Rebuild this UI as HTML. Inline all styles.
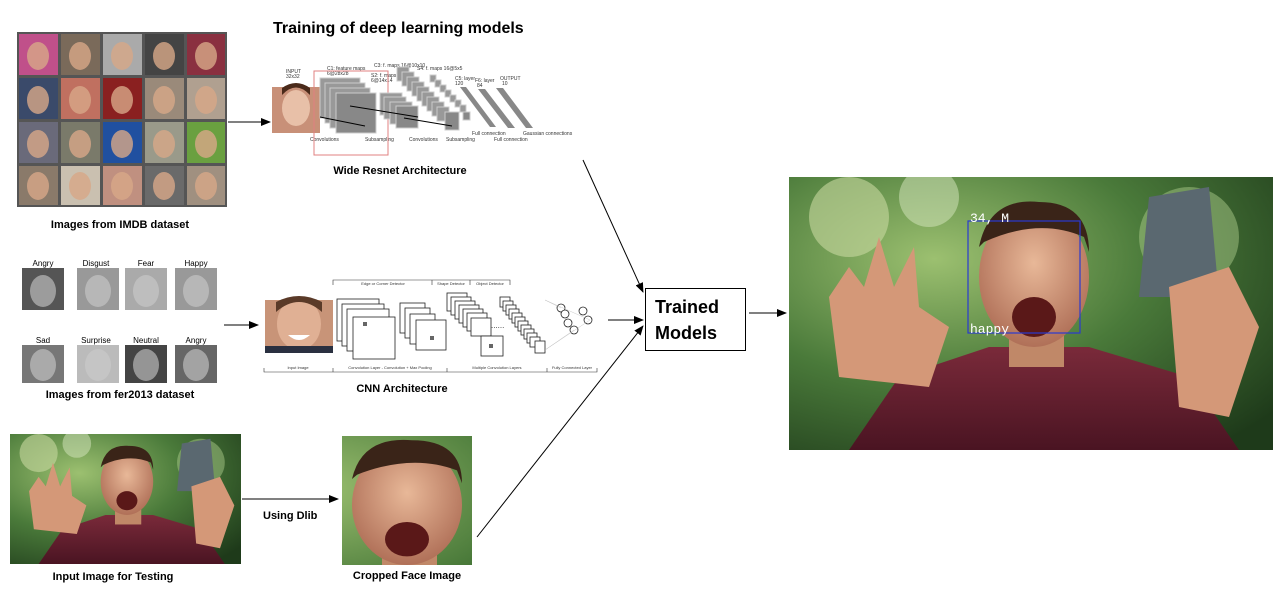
<!DOCTYPE html>
<html><head><meta charset="utf-8"><style>
html,body{margin:0;padding:0;background:#fff;width:1273px;height:616px;overflow:hidden;}
body{position:relative;font-family:"Liberation Sans",sans-serif;}
svg{display:block;}
</style></head><body>
<svg width="1273" height="616" xmlns="http://www.w3.org/2000/svg" style="position:absolute;left:0;top:0">
<defs>
<marker id="ar" markerWidth="10" markerHeight="8" refX="9" refY="4" orient="auto" markerUnits="userSpaceOnUse"><path d="M0,0 L10,4 L0,8 z" fill="#000"/></marker>
<radialGradient id="bokeh" cx="0.3" cy="0.3" r="0.9"><stop offset="0" stop-color="#9cc070"/><stop offset="0.5" stop-color="#4a7a3a"/><stop offset="1" stop-color="#1e3a1a"/></radialGradient>
<radialGradient id="skin" cx="0.5" cy="0.4" r="0.6"><stop offset="0" stop-color="#e8b898"/><stop offset="1" stop-color="#b07058"/></radialGradient>
<linearGradient id="shirt" x1="0" y1="0" x2="0" y2="1"><stop offset="0" stop-color="#7a2a3a"/><stop offset="1" stop-color="#4a1422"/></linearGradient>
<symbol id="selfie" viewBox="0 0 484 273" preserveAspectRatio="none">
<rect width="484" height="273" fill="url(#bokeh)"/>
<circle cx="60" cy="40" r="40" fill="#c8d8a0" opacity=".6"/><circle cx="400" cy="60" r="50" fill="#a8c888" opacity=".5"/><circle cx="140" cy="20" r="30" fill="#d8e8c0" opacity=".5"/>
<path d="M60,273 L110,200 L200,170 L300,170 L400,200 L450,273 Z" fill="url(#shirt)"/>
<rect x="220" y="150" width="55" height="40" fill="#c08868"/>
<ellipse cx="245" cy="100" rx="55" ry="70" fill="url(#skin)"/>
<path d="M190,70 Q200,20 250,25 Q300,25 300,75 L295,60 Q250,40 195,65 Z" fill="#3a2418"/>
<ellipse cx="245" cy="140" rx="22" ry="20" fill="#5a1818"/>
<path d="M50,200 L40,120 L60,90 L75,110 L90,60 L105,110 L125,70 L130,130 L160,150 L140,210 Z" fill="#d49878"/>
<path d="M350,120 L360,20 L420,10 L430,120 Z" fill="#5a6870"/>
<path d="M380,110 L440,90 L470,150 L440,240 L390,230 Z" fill="#d49878"/>
</symbol>
</defs>

<text x="273" y="33" font-size="16" font-weight="bold">Training of deep learning models</text>

<g>
<rect x="17" y="32" width="210" height="175" fill="#555"/>
<g><rect x="19" y="34" width="39" height="41" fill="#c0508a"/><rect x="61" y="34" width="39" height="41" fill="#7a6a5a"/><rect x="103" y="34" width="39" height="41" fill="#aaa"/><rect x="145" y="34" width="39" height="41" fill="#444"/><rect x="187" y="34" width="38" height="41" fill="#8a3040"/>
<rect x="19" y="78" width="39" height="41" fill="#3a4a6a"/><rect x="61" y="78" width="39" height="41" fill="#c07060"/><rect x="103" y="78" width="39" height="41" fill="#8a2020"/><rect x="145" y="78" width="39" height="41" fill="#9a8a7a"/><rect x="187" y="78" width="38" height="41" fill="#b0a090"/>
<rect x="19" y="122" width="39" height="41" fill="#6a6a7a"/><rect x="61" y="122" width="39" height="41" fill="#7a7a6a"/><rect x="103" y="122" width="39" height="41" fill="#2050a0"/><rect x="145" y="122" width="39" height="41" fill="#9a9a8a"/><rect x="187" y="122" width="38" height="41" fill="#6aa040"/>
<rect x="19" y="166" width="39" height="39" fill="#8a7a6a"/><rect x="61" y="166" width="39" height="39" fill="#cac0b0"/><rect x="103" y="166" width="39" height="39" fill="#c09080"/><rect x="145" y="166" width="39" height="39" fill="#6a6a6a"/><rect x="187" y="166" width="38" height="39" fill="#a09080"/></g>
<g fill="#d8a888" opacity=".8"><ellipse cx="38" cy="56" rx="11" ry="14"/><ellipse cx="80" cy="56" rx="11" ry="14"/><ellipse cx="122" cy="56" rx="11" ry="14"/><ellipse cx="164" cy="56" rx="11" ry="14"/><ellipse cx="206" cy="56" rx="11" ry="14"/>
<ellipse cx="38" cy="100" rx="11" ry="14"/><ellipse cx="80" cy="100" rx="11" ry="14"/><ellipse cx="122" cy="100" rx="11" ry="14"/><ellipse cx="164" cy="100" rx="11" ry="14"/><ellipse cx="206" cy="100" rx="11" ry="14"/>
<ellipse cx="38" cy="144" rx="11" ry="14"/><ellipse cx="80" cy="144" rx="11" ry="14"/><ellipse cx="122" cy="144" rx="11" ry="14"/><ellipse cx="164" cy="144" rx="11" ry="14"/><ellipse cx="206" cy="144" rx="11" ry="14"/>
<ellipse cx="38" cy="186" rx="11" ry="14"/><ellipse cx="80" cy="186" rx="11" ry="14"/><ellipse cx="122" cy="186" rx="11" ry="14"/><ellipse cx="164" cy="186" rx="11" ry="14"/><ellipse cx="206" cy="186" rx="11" ry="14"/></g>
</g>
<text x="120" y="228" font-size="11" font-weight="bold" text-anchor="middle">Images from IMDB  dataset</text>
<line x1="228" y1="122" x2="270" y2="122" stroke="#000" marker-end="url(#ar)"/>

<g font-size="5" fill="#333">
<text x="286" y="73">INPUT</text><text x="286" y="78">32x32</text>
<text x="327" y="70">C1: feature maps</text><text x="327" y="75">6@28x28</text>
<text x="371" y="77">S2: f. maps</text><text x="371" y="82">6@14x14</text>
<text x="374" y="67">C3: f. maps 16@10x10</text>
<text x="417" y="70">S4: f. maps 16@5x5</text>
<text x="455" y="80">C5: layer</text><text x="455" y="85">120</text>
<text x="475" y="82">F6: layer</text><text x="477" y="87">84</text>
<text x="500" y="80">OUTPUT</text><text x="502" y="85">10</text>
<text x="310" y="141">Convolutions</text><text x="365" y="141">Subsampling</text>
<text x="409" y="141">Convolutions</text><text x="446" y="141">Subsampling</text>
<text x="472" y="135">Full connection</text><text x="494" y="141">Full connection</text><text x="523" y="135">Gaussian connections</text>
</g>
<rect x="272" y="87" width="48" height="46" fill="#c89078"/><ellipse cx="296" cy="108" rx="14" ry="18" fill="#e8c0a8"/><path d="M282,95 Q296,80 310,95 L310,88 Q296,78 282,88Z" fill="#4a2a1a"/>
<rect x="314" y="71" width="74" height="84" fill="none" stroke="#e08080" stroke-width="1"/>
<g fill="#999" stroke="#ccc" stroke-width="1"><rect x="320" y="78" width="40" height="40"/><rect x="325" y="83" width="40" height="40"/><rect x="330" y="88" width="40" height="40"/><rect x="336" y="93" width="40" height="40" fill="#888"/></g>
<g fill="#999" stroke="#ccc"><rect x="380" y="93" width="22" height="22"/><rect x="384" y="97" width="22" height="22"/><rect x="390" y="102" width="22" height="22"/><rect x="396" y="106" width="22" height="22" fill="#888"/></g>
<g fill="#999" stroke="#ccc"><rect x="397" y="67" width="12" height="14"/><rect x="402" y="72" width="12" height="14"/><rect x="407" y="77" width="12" height="14"/><rect x="412" y="82" width="12" height="14"/><rect x="417" y="87" width="12" height="14"/><rect x="422" y="92" width="12" height="14"/><rect x="427" y="97" width="12" height="14"/><rect x="432" y="102" width="12" height="14"/><rect x="437" y="107" width="12" height="14"/><rect x="445" y="112" width="14" height="18" fill="#888"/></g>
<g fill="#999" stroke="#ccc"><rect x="430" y="75" width="6" height="7"/><rect x="435" y="80" width="6" height="7"/><rect x="440" y="85" width="6" height="7"/><rect x="445" y="90" width="6" height="7"/><rect x="450" y="95" width="6" height="7"/><rect x="455" y="100" width="6" height="7"/><rect x="460" y="105" width="6" height="7"/><rect x="463" y="112" width="7" height="8" fill="#888"/></g>
<g fill="#888"><polygon points="460,87 466,87 496,127 490,127"/><polygon points="478,89 485,89 515,128 508,128"/><polygon points="496,88 503,88 533,128 526,128"/></g>
<line x1="320" y1="117" x2="365" y2="126" stroke="#000"/><line x1="350" y1="106" x2="418" y2="117" stroke="#000"/><line x1="404" y1="118" x2="452" y2="126" stroke="#000"/>

<text x="400" y="174" font-size="11" font-weight="bold" text-anchor="middle">Wide Resnet Architecture</text>

<g font-size="8" text-anchor="middle"><text x="43" y="266">Angry</text><text x="96" y="266">Disgust</text><text x="146" y="266">Fear</text><text x="196" y="266">Happy</text>
<text x="43" y="343">Sad</text><text x="96" y="343">Surprise</text><text x="146" y="343">Neutral</text><text x="196" y="343">Angry</text></g>
<g><rect x="22" y="268" width="42" height="42" fill="#555"/><rect x="77" y="268" width="42" height="42" fill="#999"/><rect x="125" y="268" width="42" height="42" fill="#aaa"/><rect x="175" y="268" width="42" height="42" fill="#999"/>
<rect x="22" y="345" width="42" height="38" fill="#777"/><rect x="77" y="345" width="42" height="38" fill="#bbb"/><rect x="125" y="345" width="42" height="38" fill="#444"/><rect x="175" y="345" width="42" height="38" fill="#666"/></g>
<g fill="#ccc" opacity=".6"><ellipse cx="43" cy="291" rx="13" ry="16"/><ellipse cx="98" cy="291" rx="13" ry="16"/><ellipse cx="146" cy="291" rx="13" ry="16"/><ellipse cx="196" cy="291" rx="13" ry="16"/><ellipse cx="43" cy="365" rx="13" ry="16"/><ellipse cx="98" cy="365" rx="13" ry="16"/><ellipse cx="146" cy="365" rx="13" ry="16"/><ellipse cx="196" cy="365" rx="13" ry="16"/></g>
<text x="120" y="398" font-size="11" font-weight="bold" text-anchor="middle">Images from fer2013 dataset</text>
<line x1="224" y1="325" x2="258" y2="325" stroke="#000" marker-end="url(#ar)"/>

<g stroke="#333" stroke-width=".6" fill="none">
<path d="M333,285 V280 H432 V285 M432,280 H470 V285 M470,280 H510 V285"/>
<path d="M264,368 V372 H333 M333,368 V372 H447 M447,368 V372 H547 M547,368 V372 H597 V368"/>
</g>
<g font-size="4" fill="#333" text-anchor="middle"><text x="383" y="285">Edge or Corner Detector</text><text x="451" y="285">Shape Detector</text><text x="490" y="285">Object Detector</text>
<text x="298" y="369">Input Image</text><text x="390" y="369">Convolution Layer - Convolution + Max Pooling</text><text x="497" y="369">Multiple Convolution Layers</text><text x="572" y="369">Fully Connected Layer</text></g>
<rect x="265" y="300" width="68" height="53" fill="#c89478"/><ellipse cx="299" cy="324" rx="22" ry="26" fill="#e0b094"/><path d="M276,312 Q299,292 322,312 L322,302 Q299,290 276,302Z" fill="#5a3a28"/><rect x="265" y="346" width="68" height="7" fill="#2a3040"/><path d="M288,335 Q299,345 310,335 Z" fill="#fff"/>
<g fill="#fff" stroke="#222" stroke-width=".8"><rect x="337" y="299" width="42" height="42"/><rect x="342" y="304" width="42" height="42"/><rect x="347" y="309" width="42" height="42"/><rect x="353" y="317" width="42" height="42"/>
<rect x="400" y="303" width="25" height="30"/><rect x="405" y="308" width="25" height="30"/><rect x="410" y="314" width="25" height="30"/><rect x="416" y="320" width="30" height="30"/>
<rect x="447" y="293" width="20" height="18"/><rect x="451" y="297" width="20" height="18"/><rect x="455" y="301" width="20" height="18"/><rect x="459" y="305" width="20" height="18"/><rect x="463" y="309" width="20" height="18"/><rect x="467" y="313" width="20" height="18"/><rect x="471" y="318" width="20" height="18"/><rect x="481" y="336" width="22" height="20"/>
<rect x="500" y="297" width="10" height="10"/><rect x="503" y="301" width="10" height="10"/><rect x="506" y="305" width="10" height="10"/><rect x="509" y="309" width="10" height="10"/><rect x="512" y="313" width="10" height="10"/><rect x="515" y="317" width="10" height="10"/><rect x="518" y="321" width="10" height="10"/><rect x="521" y="325" width="10" height="10"/><rect x="524" y="329" width="10" height="10"/><rect x="527" y="333" width="10" height="10"/><rect x="530" y="337" width="10" height="10"/><rect x="535" y="341" width="10" height="12"/>
<circle cx="561" cy="308" r="4"/><circle cx="565" cy="314" r="4"/><circle cx="568" cy="323" r="4"/><circle cx="574" cy="330" r="4"/><circle cx="583" cy="311" r="4"/><circle cx="588" cy="320" r="4"/></g>
<g fill="#666"><rect x="363" y="322" width="4" height="4"/><rect x="430" y="336" width="4" height="4"/><rect x="489" y="344" width="4" height="4"/></g>
<text x="491" y="328" font-size="8" fill="#333">......</text>
<g stroke="#bbb" stroke-width=".4"><line x1="545" y1="300" x2="590" y2="320"/><line x1="545" y1="350" x2="590" y2="320"/><line x1="545" y1="300" x2="561" y2="308"/><line x1="545" y1="350" x2="574" y2="330"/></g>
<text x="402" y="392" font-size="11" font-weight="bold" text-anchor="middle">CNN Architecture</text>

<svg x="10" y="434" width="231" height="130" viewBox="0 0 484 273" preserveAspectRatio="none"><use href="#selfie"/></svg>
<text x="113" y="580" font-size="11" font-weight="bold" text-anchor="middle">Input Image for Testing</text>
<line x1="242" y1="499" x2="338" y2="499" stroke="#000" marker-end="url(#ar)"/>
<text x="263" y="519" font-size="11" font-weight="bold">Using Dlib</text>
<svg x="342" y="436" width="130" height="129" viewBox="180 20 130 150" preserveAspectRatio="none"><use href="#selfie" width="484" height="273"/></svg>
<text x="407" y="579" font-size="11" font-weight="bold" text-anchor="middle">Cropped Face Image</text>

<line x1="583" y1="160" x2="643" y2="292" stroke="#000" marker-end="url(#ar)"/>
<line x1="608" y1="320" x2="643" y2="320" stroke="#000" marker-end="url(#ar)"/>
<line x1="477" y1="537" x2="643" y2="326" stroke="#000" marker-end="url(#ar)"/>
<rect x="645.5" y="288.5" width="100" height="62" fill="#fff" stroke="#000"/>
<text x="655" y="313" font-size="18" font-weight="bold">Trained</text>
<text x="655" y="339" font-size="18" font-weight="bold">Models</text>
<line x1="749" y1="313" x2="786" y2="313" stroke="#000" marker-end="url(#ar)"/>

<svg x="789" y="177" width="484" height="273" viewBox="0 0 484 273" preserveAspectRatio="none"><use href="#selfie"/></svg>
<rect x="968" y="221" width="112" height="112" fill="none" stroke="#2a3ad0" stroke-width="1.2"/>
<text x="970" y="222" font-size="13" fill="#fff" font-family="Liberation Mono, monospace">34, M</text>
<text x="970" y="333" font-size="13" fill="#fff" font-family="Liberation Mono, monospace">happy</text>
</svg>
</body></html>
